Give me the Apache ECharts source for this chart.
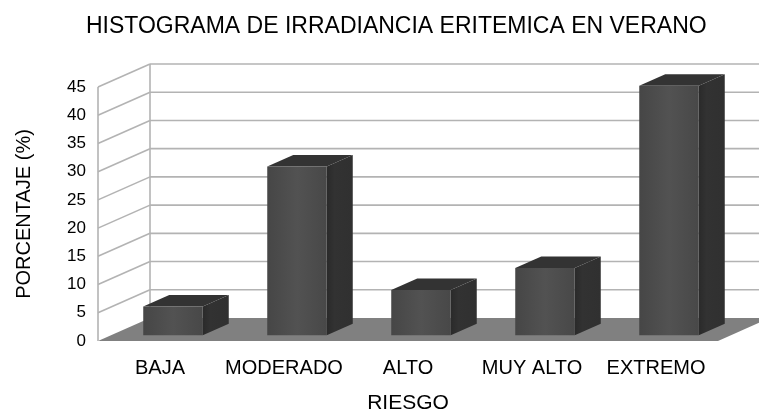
<!DOCTYPE html>
<html>
<head>
<meta charset="utf-8">
<script src="https://cdn.jsdelivr.net/npm/echarts@6/dist/echarts.min.js"></script>
<style>
  html, body { margin: 0; padding: 0; background: #fff; }
  #chart { width: 759px; height: 412px; }
</style>
</head>
<body>
<div id="chart"></div>
<script>
// datos del histograma
const categories = ['BAJA', 'MODERADO', 'ALTO', 'MUY ALTO', 'EXTREMO']
const values = [5.1, 29.9, 8.0, 11.9, 44.2]
const yTicks = [0, 5, 10, 15, 20, 25, 30, 35, 40, 45]

// desplazamiento de profundidad (pseudo 3D)
const DX = 52
const DY = -23
const FONT = '"Liberation Sans", Arial, sans-serif'

const chart = echarts.init(document.getElementById('chart'))

// paredes y suelo
const renderFrame = (params, api) => {
  const cs = params.coordSys
  const v = api.value(1)
  const y = api.coord([0, v])[1]
  const x0 = cs.x
  const x1 = cs.x + cs.width
  const line = { stroke: '#b3b3b3', lineWidth: 1.6 }
  const children = []
  if (params.dataIndex === 0) {
    const yTop = api.coord([0, yTicks[yTicks.length - 1]])[1]
    children.push({
      type: 'polygon',
      shape: { points: [[x0, y], [x1, y], [x1 + DX, y + DY], [x0 + DX, y + DY]] },
      style: { fill: '#808080' }
    })
    children.push({ type: 'line', shape: { x1: x0, y1: y, x2: x0, y2: yTop }, style: line })
    children.push({ type: 'line', shape: { x1: x0 + DX, y1: y + DY, x2: x0 + DX, y2: yTop + DY }, style: line })
  } else {
    children.push({ type: 'line', shape: { x1: x0, y1: y, x2: x0 + DX, y2: y + DY }, style: line })
    children.push({ type: 'line', shape: { x1: x0 + DX, y1: y + DY, x2: x1 + DX, y2: y + DY }, style: line })
  }
  return { type: 'group', children }
}

// barras en 3D
const renderBar = (params, api) => {
  const i = api.value(0)
  const v = api.value(1)
  const base = api.coord([i, 0])
  const top = api.coord([i, v])
  const band = api.size([1, 0])[0]
  const w = band * 0.48
  const fx = base[0] - w / 2 + DX * 0.25
  const by = base[1] + DY * 0.25
  const ty = top[1] + DY * 0.25
  const ddx = DX * 0.5
  const ddy = DY * 0.5
  return {
    type: 'group',
    children: [
      {
        type: 'polygon',
        shape: { points: [[fx + w, ty], [fx + w + ddx, ty + ddy], [fx + w + ddx, by + ddy], [fx + w, by]] },
        style: {
          fill: new echarts.graphic.LinearGradient(0, 0, 1, 0, [
            { offset: 0, color: '#2a2a2a' },
            { offset: 0.3, color: '#323232' },
            { offset: 1, color: '#303030' }
          ])
        }
      },
      {
        type: 'polygon',
        shape: { points: [[fx, ty], [fx + w, ty], [fx + w + ddx, ty + ddy], [fx + ddx, ty + ddy]] },
        style: { fill: '#333333' }
      },
      {
        type: 'rect',
        shape: { x: fx, y: ty, width: w, height: by - ty },
        style: {
          fill: new echarts.graphic.LinearGradient(0, 0, 1, 0, [
            { offset: 0, color: '#464646' },
            { offset: 0.5, color: '#525252' },
            { offset: 1, color: '#484848' }
          ])
        }
      }
    ]
  }
}

chart.setOption({
  animation: false,
  textStyle: { fontFamily: FONT },
  graphic: [{
    type: 'text',
    left: 86,
    top: 15,
    style: {
      text: 'HISTOGRAMA DE IRRADIANCIA ERITEMICA EN VERANO',
      font: '23px ' + FONT,
      fill: '#000'
    }
  }],
  grid: { left: 98, right: 41, top: 87, bottom: 71, containLabel: false, outerBoundsMode: 'none' },
  xAxis: {
    type: 'category',
    data: categories,
    boundaryGap: true,
    axisLine: { show: false },
    axisTick: { show: false },
    axisLabel: { color: '#000', fontSize: 20, margin: 17, interval: 0 },
    name: 'RIESGO',
    nameLocation: 'middle',
    nameGap: 52,
    nameTextStyle: { color: '#000', fontSize: 21 }
  },
  yAxis: {
    type: 'value',
    min: 0,
    max: 45,
    interval: 5,
    axisLine: { show: false },
    axisTick: { show: false },
    splitLine: { show: false },
    axisLabel: { color: '#000', fontSize: 17, margin: 12 },
    name: 'PORCENTAJE (%)',
    nameLocation: 'middle',
    nameRotate: 90,
    nameGap: 64,
    nameTextStyle: { color: '#000', fontSize: 20 }
  },
  series: [
    {
      type: 'custom',
      renderItem: renderFrame,
      data: yTicks.map(t => [0, t]),
      z: 1,
      silent: true
    },
    {
      type: 'custom',
      renderItem: renderBar,
      data: values.map((v, i) => [i, v]),
      z: 2
    }
  ]
})
</script>
</body>
</html>
